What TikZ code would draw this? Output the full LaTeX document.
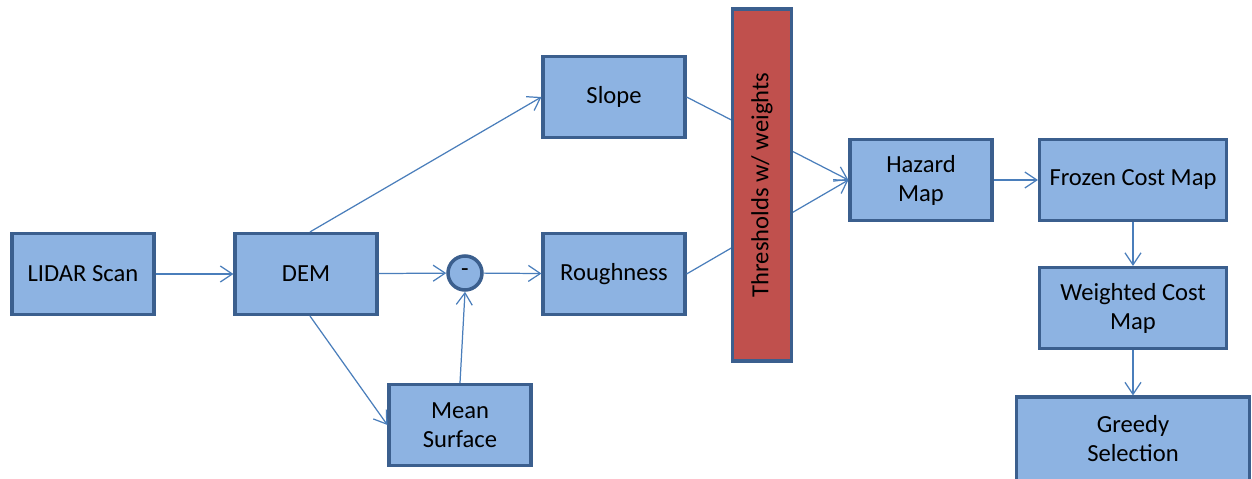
\documentclass[tikz,border=0pt]{standalone}
\usepackage{fontspec}
\setmainfont{Carlito}
\usetikzlibrary{arrows.meta}

\definecolor{boxfill}{HTML}{8DB3E2}
\definecolor{boxline}{HTML}{3B5F8E}
\definecolor{barfill}{HTML}{C0504D}
\definecolor{flowline}{HTML}{4A7EBB}

\begin{document}
\begin{tikzpicture}[
		x=0.02cm, y=-0.02cm,
		every node/.style={font=\fontsize{14}{16.5}\selectfont, align=center},
		box/.style={rectangle, draw=boxline, fill=boxfill, line width=1.8pt,
			minimum width=2.84cm, minimum height=1.62cm, inner sep=2pt},
		wide/.style={box, minimum width=3.74cm},
		op/.style={circle, draw=boxline, fill=boxfill, line width=2pt,
			minimum size=0.68cm, inner sep=0pt},
		bar/.style={rectangle, draw=boxline, fill=barfill, line width=1.8pt,
			minimum width=1.18cm, minimum height=7.04cm, inner sep=0pt},
		flow/.style={draw=flowline, line width=0.7pt,
			-{Straight Barb[length=2.4mm, width=3.2mm]}}
	]
  \clip (0,0) rectangle (1252,479);
  \useasboundingbox (0,0) rectangle (1252,479);

  \node (lidar) [box] at (83, 274) {LIDAR Scan};
  \node (dem) [box] at (306, 274) {DEM};
  \node (minus) [op] at (465, 273) {-};
  \node (mean) [box] at (460, 425) {Mean\\Surface};
  \node (slope) [box] at (614, 97) {Slope};
  \node (rough) [box] at (614, 274) {Roughness};
  \node (hazard) [box] at (921, 180) {Hazard\\Map};
  \node (frozen) [wide] at (1133, 180) {Frozen Cost Map};
  \node (weighted) [wide] at (1133, 308) {Weighted Cost\\Map};
  \node (greedy) [box, minimum width=4.66cm, minimum height=2.2cm,
    text depth=0.55cm] at (1133, 452) {Greedy\\Selection};

  % lines into the hazard map run behind the threshold bar
  \draw [flow] (slope.east) -- (hazard.west);
  \draw [flow] (rough.east) -- (hazard.west);
  \node (thresh) [bar] at (762, 185) {\rotatebox{90}{Thresholds w/ weights}};

  \draw [flow] (lidar) -- (dem);
  \draw [flow] (dem) -- (minus);
  \draw [flow] (minus) -- (rough);
  \draw [flow] (dem.north) ++(4,0) -- (slope.west);
  \draw [flow] (dem.south) ++(4,0) -- (mean.west);
  \draw [flow] (mean.north) -- (minus.south);
  \draw [flow] (hazard) -- (frozen);
  \draw [flow] (frozen) -- (weighted);
  \draw [flow] (weighted) -- (greedy.north);
\end{tikzpicture}
\end{document}
